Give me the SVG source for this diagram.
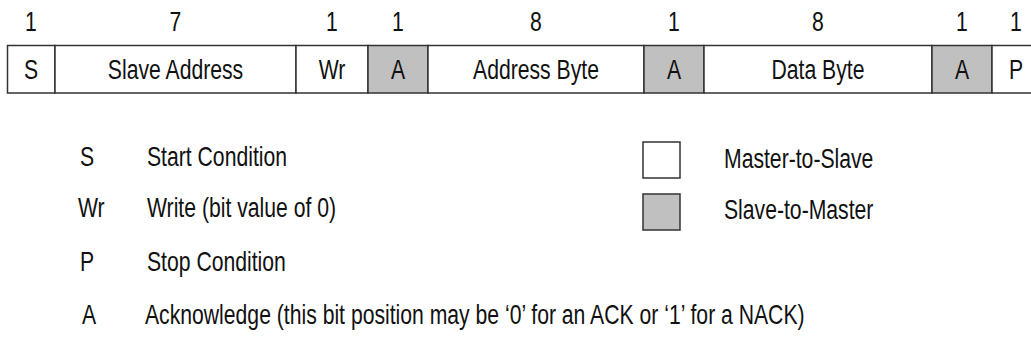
<svg xmlns="http://www.w3.org/2000/svg" width="1031" height="349" viewBox="0 0 1031 349">
<style>
text{font-family:"Liberation Sans Narrow","Arial Narrow","Liberation Sans",sans-serif;font-size:27.5px;fill:#111}
.c{text-anchor:middle}
.cell{stroke:#333;stroke-width:1.5}
.w{fill:#fff}
.g{fill:#c0c0c0}
</style>
<rect width="1031" height="349" fill="#fff"/>
<g id="bit-counts">
<text class="c" transform="translate(31,31) scale(0.77,1)">1</text>
<text class="c" transform="translate(175.5,31) scale(0.77,1)">7</text>
<text class="c" transform="translate(332,31) scale(0.77,1)">1</text>
<text class="c" transform="translate(398,31) scale(0.77,1)">1</text>
<text class="c" transform="translate(536,31) scale(0.77,1)">8</text>
<text class="c" transform="translate(674,31) scale(0.77,1)">1</text>
<text class="c" transform="translate(818,31) scale(0.77,1)">8</text>
<text class="c" transform="translate(962,31) scale(0.77,1)">1</text>
<text class="c" transform="translate(1016,31) scale(0.77,1)">1</text>
</g>
<g id="frame">
<g id="f-s"><rect class="cell w" x="7.5" y="45.5" width="47.5" height="47.5"/><text class="c" transform="translate(31,78.5) scale(0.77,1)">S</text></g>
<g id="f-addr"><rect class="cell w" x="55" y="45.5" width="241" height="47.5"/><text class="c" transform="translate(175.5,78.5) scale(0.77,1)">Slave Address</text></g>
<g id="f-wr"><rect class="cell w" x="296" y="45.5" width="72" height="47.5"/><text class="c" transform="translate(332,78.5) scale(0.77,1)">Wr</text></g>
<g id="f-a1"><rect class="cell g" x="368" y="45.5" width="60" height="47.5"/><text class="c" transform="translate(398,78.5) scale(0.77,1)">A</text></g>
<g id="f-ab"><rect class="cell w" x="428" y="45.5" width="216" height="47.5"/><text class="c" transform="translate(536,78.5) scale(0.77,1)">Address Byte</text></g>
<g id="f-a2"><rect class="cell g" x="644" y="45.5" width="60" height="47.5"/><text class="c" transform="translate(674,78.5) scale(0.77,1)">A</text></g>
<g id="f-db"><rect class="cell w" x="704" y="45.5" width="228" height="47.5"/><text class="c" transform="translate(818,78.5) scale(0.77,1)">Data Byte</text></g>
<g id="f-a3"><rect class="cell g" x="932" y="45.5" width="60" height="47.5"/><text class="c" transform="translate(962,78.5) scale(0.77,1)">A</text></g>
<g id="f-p"><rect class="cell w" x="992" y="45.5" width="60" height="47.5"/><text class="c" transform="translate(1016,78.5) scale(0.77,1)">P</text></g>
</g>
<g id="legend-abbrev">
<g id="l-s"><text transform="translate(80,166) scale(0.77,1)">S</text><text transform="translate(147,166) scale(0.77,1)">Start Condition</text></g>
<g id="l-wr"><text transform="translate(78,217) scale(0.77,1)">Wr</text><text transform="translate(147,217) scale(0.77,1)">Write (bit value of 0)</text></g>
<g id="l-p"><text transform="translate(80,271) scale(0.77,1)">P</text><text transform="translate(147,271) scale(0.77,1)">Stop Condition</text></g>
<g id="l-a"><text transform="translate(82,324) scale(0.77,1)">A</text><text transform="translate(145,324) scale(0.77,1)">Acknowledge (this bit position may be ‘0’ for an ACK or ‘1’ for a NACK)</text></g>
</g>
<g id="legend-colour">
<g id="l-ms"><rect class="cell w" x="643" y="142" width="37" height="36"/><text transform="translate(724,168) scale(0.77,1)">Master-to-Slave</text></g>
<g id="l-sm"><rect class="cell g" x="643" y="194" width="37" height="36"/><text transform="translate(724,219) scale(0.77,1)">Slave-to-Master</text></g>
</g>
</svg>
